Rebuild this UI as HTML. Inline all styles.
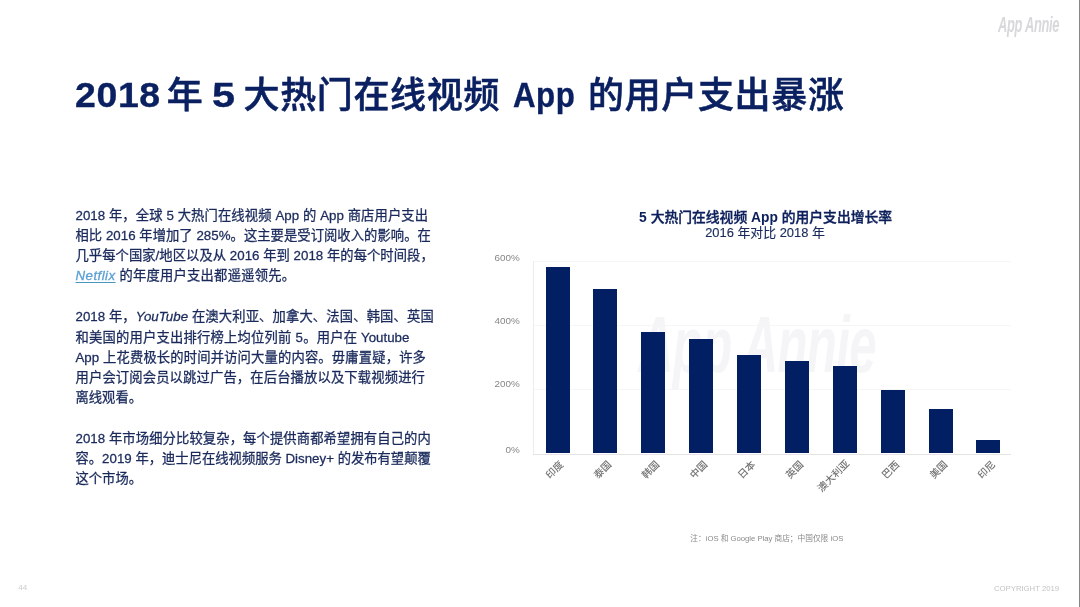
<!DOCTYPE html>
<html lang="zh-CN">
<head>
<meta charset="utf-8">
<title>2018 年 5 大热门在线视频 App 的用户支出暴涨</title>
<style>
html,body{margin:0;padding:0;}
body{width:1080px;height:607px;background:#fff;overflow:hidden;position:relative;
  font-family:"Liberation Sans","Noto Sans CJK SC",sans-serif;color:#142557;}
.abs{position:absolute;white-space:nowrap;}
#edge{left:1078.7px;top:0;width:1.3px;height:607px;background:#878787;}
#title{left:75px;top:68px;font-size:36px;line-height:52px;font-weight:bold;color:#0a2060;letter-spacing:0;}
#title span{position:absolute;top:0;transform-origin:0 50%;}
#title .l{font-size:35.3px;letter-spacing:0.6px;top:1.1px;-webkit-text-stroke:0.35px #0a2060;}
#title .c{font-size:36px;letter-spacing:0.65px;top:2.3px;font-weight:500;-webkit-text-stroke:0.55px #0a2060;}
.body{left:75.5px;font-size:13.3px;line-height:20.15px;color:#1a2a5c;-webkit-text-stroke:0.28px #1a2a5c;}
.body .ln{display:block;text-align:justify;text-align-last:justify;white-space:nowrap;}
.body .ln.last{text-align:left;text-align-last:left;}
.body i{font-style:italic;}
.body a{color:#5a9fd4;-webkit-text-stroke:0.3px #5a9fd4;text-decoration:underline;text-decoration-color:#4a97bd;text-underline-offset:2px;font-style:italic;letter-spacing:0.45px;}
#logo{left:998px;top:11px;font-size:22px;line-height:28px;color:#d8d8db;font-style:italic;font-weight:bold;
  transform-origin:0 0;transform:scaleX(0.585);letter-spacing:-0.5px;}
#wm{left:638px;top:300.3px;font-size:80px;line-height:90px;color:#f5f5f8;font-style:italic;font-weight:bold;
  transform-origin:0 0;transform:scaleX(0.613);letter-spacing:-1px;}
#ctitle{left:465.6px;width:600px;text-align:center;top:208.8px;font-size:13.8px;line-height:18px;font-weight:bold;color:#0c1f5b;}
#ctitle .c{font-weight:500;-webkit-text-stroke:0.35px #0c1f5b;}
#csub{left:465px;width:600px;text-align:center;top:224px;font-size:12.9px;line-height:18px;color:#1a2a5c;-webkit-text-stroke:0.15px #1a2a5c;}
.yl{width:60px;left:459.7px;text-align:right;font-size:9.9px;line-height:12px;color:#868686;}
.grid{position:absolute;left:533px;width:478px;height:1px;background:#f6f6f6;}
.bar{position:absolute;width:24px;background:#031f63;}
.xl{font-size:10px;line-height:12px;color:#757575;font-weight:500;transform-origin:100% 50%;transform:rotate(-45deg);text-align:right;}
#note{left:466.8px;width:600px;text-align:center;top:532.5px;font-size:7.7px;line-height:12px;color:#8a8a8a;}
#pg{left:18.3px;top:582.3px;font-size:8px;line-height:12px;color:#cdcdcd;}
#copy{left:994px;top:583.3px;font-size:7.8px;line-height:12px;color:#c4c4c4;letter-spacing:-0.05px;}
</style>
</head>
<body>
<div class="abs" id="logo">App Annie</div>
<div class="abs" id="title"><span class="l" style="left:0.4px;transform:scaleX(1.06)">2018</span> <span class="c" style="left:91.7px">年</span> <span class="l" style="left:137px;transform:scaleX(1.175)">5</span> <span class="c" style="left:168.5px">大热门在线视频</span> <span class="l" style="left:438px;transform:scaleX(0.886)">App</span> <span class="c" style="left:513px">的用户支出暴涨</span></div>

<div class="abs body" style="top:206px"><span class="ln" style="width:352.6px">2018 年，全球 5 大热门在线视频 App 的 App 商店用户支出</span><span class="ln" style="width:355.3px">相比 2016 年增加了 285%。这主要是受订阅收入的影响。在</span><span class="ln" style="width:358.2px">几乎每个国家/地区以及从 2016 年到 2018 年的每个时间段，</span><span class="ln" style="width:219.5px"><a>Netflix</a> 的年度用户支出都遥遥领先。</span></div>

<div class="abs body" style="top:307.4px"><span class="ln" style="width:358.2px">2018 年，<i>YouTube</i> 在澳大利亚、加拿大、法国、韩国、英国</span><span class="ln" style="width:333.9px">和美国的用户支出排行榜上均位列前 5。用户在 Youtube</span><span class="ln" style="width:350.4px">App 上花费极长的时间并访问大量的内容。毋庸置疑，许多</span><span class="ln" style="width:349.4px">用户会订阅会员以跳过广告，在后台播放以及下载视频进行</span><span class="ln last">离线观看。</span></div>

<div class="abs body" style="top:428.5px"><span class="ln" style="width:355.3px">2018 年市场细分比较复杂，每个提供商都希望拥有自己的内</span><span class="ln" style="width:355.3px">容。2019 年，迪士尼在线视频服务 Disney+ 的发布有望颠覆</span><span class="ln last">这个市场。</span></div>

<div class="abs" id="ctitle">5 <span class="c">大热门在线视频</span> App <span class="c">的用户支出增长率</span></div>
<div class="abs" id="csub">2016 年对比 2018 年</div>

<div class="abs" id="wm">App Annie</div>

<div class="grid" style="top:261px"></div>
<div class="grid" style="top:325px"></div>
<div class="grid" style="top:389px"></div>
<div class="grid" style="top:453.5px;background:#e4e4e4"></div>
<div style="position:absolute;left:533.3px;top:261px;width:1px;height:193px;background:#ececec"></div>

<div class="abs yl" style="top:252px">600%</div>
<div class="abs yl" style="top:315px">400%</div>
<div class="abs yl" style="top:378px">200%</div>
<div class="abs yl" style="top:444px">0%</div>

<div class="bar" style="left:545.5px;top:266.7px;height:186.7px"></div>
<div class="bar" style="left:593.4px;top:289.4px;height:164.0px"></div>
<div class="bar" style="left:641.3px;top:332.2px;height:121.2px"></div>
<div class="bar" style="left:689.1px;top:339.0px;height:114.4px"></div>
<div class="bar" style="left:737.0px;top:355.0px;height:98.4px"></div>
<div class="bar" style="left:784.9px;top:361.4px;height:92.0px"></div>
<div class="bar" style="left:832.8px;top:366.4px;height:87.0px"></div>
<div class="bar" style="left:880.7px;top:390.2px;height:63.2px"></div>
<div class="bar" style="left:928.5px;top:409.3px;height:44.1px"></div>
<div class="bar" style="left:976.4px;top:439.9px;height:13.5px"></div>

<div class="abs xl" style="right:518.5px;top:457.3px">印度</div>
<div class="abs xl" style="right:470.5px;top:457.3px">泰国</div>
<div class="abs xl" style="right:422.5px;top:457.3px">韩国</div>
<div class="abs xl" style="right:374.5px;top:457.3px">中国</div>
<div class="abs xl" style="right:326.5px;top:457.3px">日本</div>
<div class="abs xl" style="right:278.5px;top:457.3px">英国</div>
<div class="abs xl" style="right:231.7px;top:456.1px">澳大利亚</div>
<div class="abs xl" style="right:182.5px;top:457.3px">巴西</div>
<div class="abs xl" style="right:134px;top:457.3px">美国</div>
<div class="abs xl" style="right:85.8px;top:457.3px">印尼</div>

<div class="abs" id="note">注：iOS 和 Google Play 商店；中国仅限 iOS</div>
<div class="abs" id="pg">44</div>
<div class="abs" id="copy">COPYRIGHT 2019</div>
<div class="abs" id="edge"></div>
</body>
</html>
